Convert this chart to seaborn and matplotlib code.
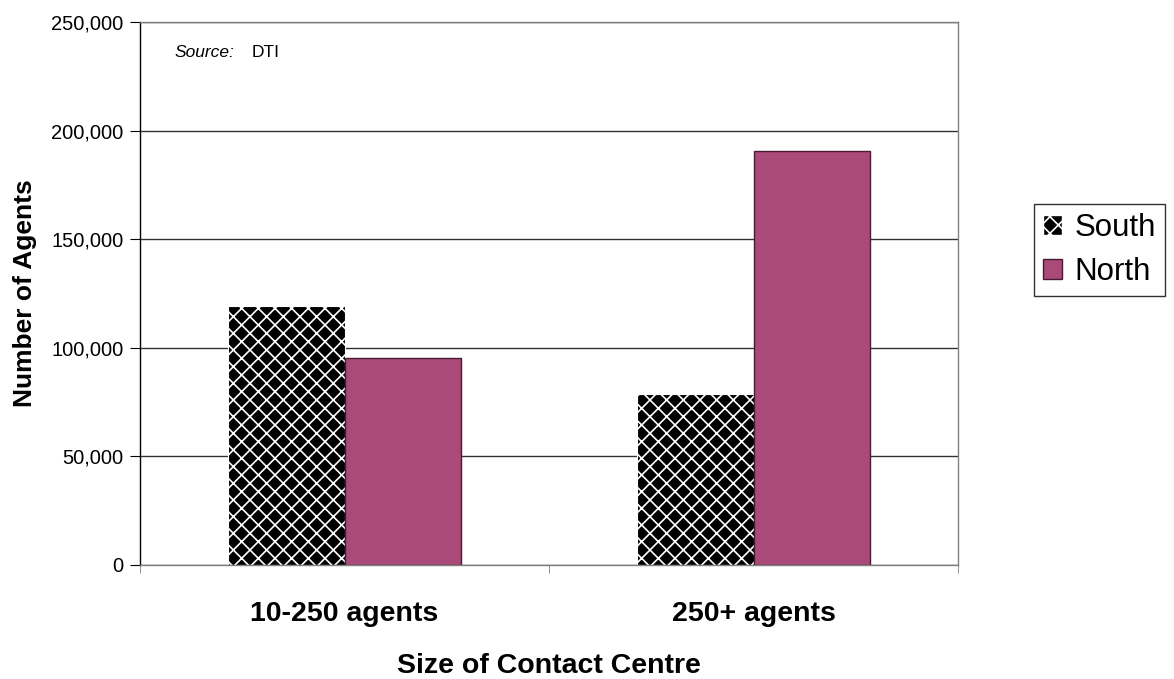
import pandas as pd
import numpy as np
import matplotlib.pyplot as plt
import seaborn as sns
from matplotlib.ticker import FuncFormatter, FixedLocator

# ── Data ───────────────────────────────────────────────────
sizes = ['10-250 agents', '250+ agents']
south = [119000, 78500]
north = [95500, 190500]

df = pd.DataFrame({
    'Size': sizes * 2,
    'Region': ['South'] * 2 + ['North'] * 2,
    'Agents': south + north,
})

sns.set_style('white')
plt.rcParams['font.family'] = ['Liberation Sans', 'DejaVu Sans']
plt.rcParams['hatch.linewidth'] = 1.2
plt.rcParams['text.color'] = 'black'
plt.rcParams['axes.labelcolor'] = 'black'
plt.rcParams['xtick.color'] = 'black'
plt.rcParams['ytick.color'] = 'black'

fig = plt.figure(figsize=(11.74, 6.79), dpi=100)
ax = fig.add_axes([0.1193, 0.168, 0.6967, 0.7996])

sns.barplot(data=df, x='Size', y='Agents', hue='Region', ax=ax,
            palette={'South': 'black', 'North': '#A94A78'},
            width=0.57, gap=0, saturation=1, errorbar=None)

# South bars: black with white diagonal lattice
for bar in ax.containers[0]:
    bar.set_hatch('xx')
    bar.set_edgecolor('white')
    bar.set_linewidth(0.8)
for bar in ax.containers[1]:
    bar.set_edgecolor('#4A1A35')
    bar.set_linewidth(1.0)

# ── Axes styling ───────────────────────────────────────────
ax.set_ylim(0, 250000)
ax.set_xlim(-0.5, 1.5)
ax.set_yticks(np.arange(0, 250001, 50000))
ax.yaxis.set_major_formatter(FuncFormatter(lambda v, p: f'{int(v):,}'))
ax.yaxis.grid(True, color='#333333', linewidth=1.0)
ax.set_axisbelow(True)
for s in ax.spines.values():
    s.set_color('#808080')
    s.set_linewidth(1.0)
ax.spines['left'].set_color('black')

ax.tick_params(axis='y', labelsize=14.5, length=7, direction='out', left=True,
               color='black', pad=5)
ax.tick_params(axis='x', which='major', length=0, labelsize=20.5, pad=26)
ax.xaxis.set_minor_locator(FixedLocator([-0.5, 0.5, 1.5]))
ax.tick_params(axis='x', which='minor', length=6, direction='out', bottom=True, color='#808080')
for lbl in ax.get_xticklabels():
    lbl.set_fontweight('bold')

ax.set_xlabel('Size of Contact Centre', fontsize=20.5, fontweight='bold', labelpad=19)
ax.set_ylabel('Number of Agents', fontsize=19, fontweight='bold', labelpad=10)

ax.text(0.042, 0.935, 'Source:', transform=ax.transAxes, fontsize=12.5, style='italic')
ax.text(0.136, 0.935, 'DTI', transform=ax.transAxes, fontsize=12.5)

leg = ax.legend(loc='center left', bbox_to_anchor=(1.093, 0.58), fontsize=22.5,
                frameon=True, fancybox=False, edgecolor='black', handlelength=0.6,
                handleheight=0.6, handletextpad=0.4, borderpad=0.3, labelspacing=0.45,
                borderaxespad=0)
leg.get_frame().set_linewidth(1.0)
south_handle, north_handle = leg.legend_handles
south_handle.set_hatch('xx')
south_handle.set_edgecolor('white')
north_handle.set_edgecolor('#4A1A35')

plt.savefig('out.png', dpi=100)
